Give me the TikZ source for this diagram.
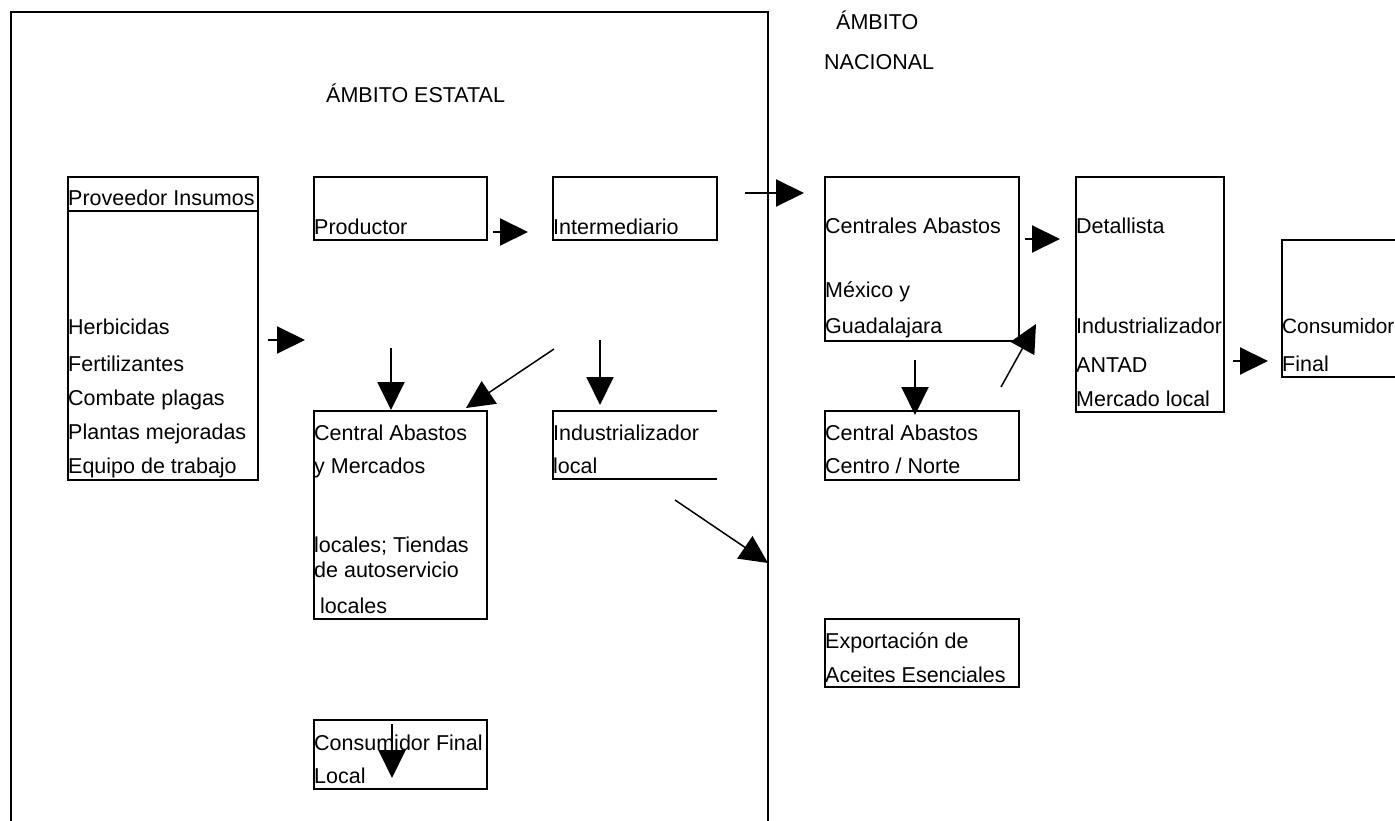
\documentclass[tikz,border=0pt]{standalone}
\usepackage{fontspec}
\setmainfont{Liberation Sans}
\usetikzlibrary{arrows.meta}

\begin{document}
\begin{tikzpicture}[x=1pt,y=-1pt,
    caja/.style={line width=2pt},
    marco/.style={line width=1.6pt},
    flecha/.style={line width=2pt,-{Triangle[length=28pt,width=27pt]}},
    flechad/.style={line width=1.5pt,-{Triangle[length=28pt,width=27pt]}},
    txt/.style={anchor=base west,inner sep=0pt,font=\fontsize{21.5}{25}\selectfont}]
    \useasboundingbox (0,0) rectangle (1395,821);

    %%%%%%%%%%%%%%%%%%%%%%%%%%%%%%%%%%%%%% Ambitos
    \draw[marco] (11,830)--(11,12)--(768,12)--(768,830);
    \node[txt] (estatal) at (326,103) {ÁMBITO ESTATAL};
    \node[txt] (nacional1) at (836,30) {ÁMBITO};
    \node[txt] (nacional2) at (824,70) {NACIONAL};

    %%%%%%%%%%%%%%%%%%%%%%%%%%%%%%%%%%%%%% Cajas estatales
    \draw[caja] (68,177) rectangle (258,480);
    \draw[caja] (68,211)--(258,211);
    \draw[caja] (314,177) rectangle (487,240);
    \draw[caja] (553,177) rectangle (717,240);
    \draw[caja] (314,411) rectangle (487,619);
    \draw[caja] (717,411)--(553,411)--(553,479)--(717,479);
    \draw[caja] (314,720) rectangle (487,789);

    \node[txt] (prov) at (68,206) {Proveedor Insumos};
    \node[txt] (prov1) at (68,334) {Herbicidas};
    \node[txt] (prov2) at (68,371) {Fertilizantes};
    \node[txt] (prov3) at (68,405) {Combate plagas};
    \node[txt] (prov4) at (68,439) {Plantas mejoradas};
    \node[txt] (prov5) at (68,473) {Equipo de trabajo};

    \node[txt] (prod) at (314,235) {Productor};
    \node[txt] (inter) at (553,235) {Intermediario};

    \node[txt] (cab1) at (314,440) {Central Abastos};
    \node[txt] (cab2) at (314,473) {y Mercados};
    \node[txt] (cab3) at (314,552) {locales; Tiendas};
    \node[txt] (cab4) at (314,577) {de autoservicio};
    \node[txt] (cab5) at (320,613) {locales};

    \node[txt] (ind1) at (553,440) {Industrializador};
    \node[txt] (ind2) at (553,473) {local};

    \node[txt] (cfl1) at (314,750) {Consumidor Final};
    \node[txt] (cfl2) at (314,783) {Local};

    %%%%%%%%%%%%%%%%%%%%%%%%%%%%%%%%%%%%%% Cajas nacionales
    \draw[caja] (825,177) rectangle (1019,341);
    \draw[caja] (1076,177) rectangle (1224,412);
    \draw[caja] (1400,240)--(1282,240)--(1282,377)--(1400,377);
    \draw[caja] (825,411) rectangle (1019,480);
    \draw[caja] (825,619) rectangle (1019,687);

    \node[txt] (ctr1) at (825,234) {Centrales Abastos};
    \node[txt] (ctr2) at (825,297) {México y};
    \node[txt] (ctr3) at (825,333) {Guadalajara};

    \node[txt] (det1) at (1076,234) {Detallista};
    \node[txt] (det2) at (1076,333) {Industrializador};
    \node[txt] (det3) at (1076,372) {ANTAD};
    \node[txt] (det4) at (1076,406) {Mercado local};

    \node[txt,font=\fontsize{20.8}{25}\selectfont] (cons1) at (1282,333) {Consumidor};
    \node[txt] (cons2) at (1282,371) {Final};

    \node[txt] (cen1) at (825,440) {Central Abastos};
    \node[txt] (cen2) at (825,473) {Centro / Norte};

    \node[txt] (exp1) at (825,648) {Exportación de};
    \node[txt] (exp2) at (825,682) {Aceites Esenciales};

    %%%%%%%%%%%%%%%%%%%%%%%%%%%%%%%%%%%%%% Flechas
    \coordinate (f1a) at (268,340);  \coordinate (f1b) at (305,340);
    \coordinate (f2a) at (493,232);  \coordinate (f2b) at (528,232);
    \coordinate (f3a) at (745,193);  \coordinate (f3b) at (804,193);
    \coordinate (f4a) at (391,348);  \coordinate (f4b) at (391,410);
    \coordinate (f5a) at (554,349);  \coordinate (f5b) at (466,408);
    \coordinate (f6a) at (600,340);  \coordinate (f6b) at (600,405);
    \coordinate (f7a) at (675,500);  \coordinate (f7b) at (768,563);
    \coordinate (f8a) at (392,724);  \coordinate (f8b) at (392,778);
    \coordinate (f9a) at (1025,239); \coordinate (f9b) at (1060,239);
    \coordinate (f10a) at (1233,361); \coordinate (f10b) at (1268,361);
    \coordinate (f11a) at (915,360); \coordinate (f11b) at (915,415);
    \coordinate (f12a) at (1001,387); \coordinate (f12b) at (1036,324);

    \draw[flecha] (f1a)--(f1b);
    \draw[flecha] (f2a)--(f2b);
    \draw[flecha] (f3a)--(f3b);
    \draw[flecha] (f4a)--(f4b);
    \draw[flechad] (f5a)--(f5b);
    \draw[flecha] (f6a)--(f6b);
    \draw[flechad] (f7a)--(f7b);
    \draw[flecha] (f8a)--(f8b);
    \draw[flecha] (f9a)--(f9b);
    \draw[flecha] (f10a)--(f10b);
    \draw[flecha] (f11a)--(f11b);
    \draw[flechad] (f12a)--(f12b);
\end{tikzpicture}
\end{document}
